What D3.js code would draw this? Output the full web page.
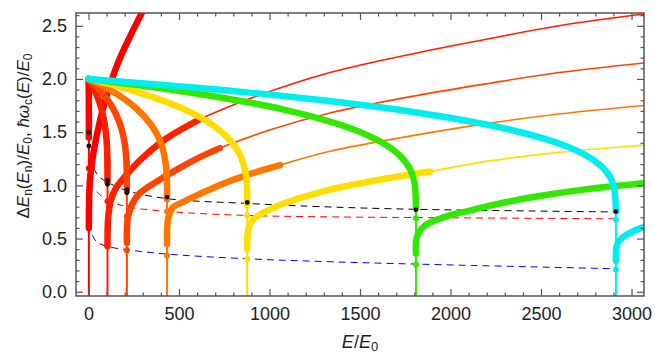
<!DOCTYPE html>
<html>
<head>
<meta charset="utf-8">
<script src="https://cdn.jsdelivr.net/npm/d3@7"></script>
<style>
  body { margin: 0; background: #fff; }
  svg { display: block; font-family: 'Liberation Sans', Arial, sans-serif; }
</style>
</head>
<body>
<div id="chart"></div>
<script>
// tick values
const xTicks = [0, 500, 1000, 1500, 2000, 2500, 3000];
const yTicks = [0, 0.5, 1.0, 1.5, 2.0, 2.5];

// one colour per level n = 1..7
const levelColors = ['#ff0000', '#ff1e00', '#ff4400', '#ff7700', '#ffdd00', '#33e800', '#00eeee'];
// energy where each level's branch drops (E/E0)
const criticalE = [2, 105, 212, 434, 877, 1809, 2914];

// falling branches, [E/E0, dE/E0]
const fall1 = [[0, 1.98], [1.2, 1.93], [2, 1.8], [2, 1.45]];
const fall2 = [[0, 2.0], [31.5, 1.902], [63, 1.767], [84, 1.628], [94.5, 1.516], [99.8, 1.425], [102.9, 1.33], [104.5, 1.228], [105, 1.03]];
const fall3 = [[0, 2.0], [63.6, 1.894], [127.2, 1.748], [169.6, 1.598], [190.8, 1.476], [201.4, 1.377], [207.8, 1.274], [210.9, 1.164], [212, 0.95]];
const fall4 = [[0, 2.0], [130, 1.886], [260, 1.729], [347, 1.567], [391, 1.436], [412, 1.33], [425, 1.219], [432, 1.10], [434, 0.87]];
const fall5 = [[0, 2.0], [263, 1.881], [526, 1.717], [702, 1.548], [789, 1.411], [833, 1.30], [859, 1.185], [873, 1.061], [877, 0.82]];
const fall6 = [[0, 2.0], [543, 1.878], [1085, 1.71], [1447, 1.537], [1628, 1.396], [1719, 1.282], [1773, 1.164], [1800, 1.037], [1809, 0.79]];
const fall7 = [[0, 2.0], [874, 1.874], [1748, 1.701], [2331, 1.523], [2623, 1.379], [2768, 1.262], [2856, 1.14], [2899, 1.009], [2914, 0.755]];

// rising branches, thick part
const rise1 = [[2, 0.6], [3, 0.8], [5, 0.95], [9, 1.07], [16, 1.16], [25, 1.28], [40, 1.42], [60, 1.58], [80, 1.72], [120, 1.95], [170, 2.18], [230, 2.4], [300, 2.64]];
const rise2 = [[105, 0.43], [106, 0.6], [110, 0.72], [122, 0.85], [150, 0.97], [210, 1.1], [300, 1.26], [430, 1.44], [625, 1.63]];
const rise3 = [[212, 0.46], [213, 0.6], [218, 0.7], [235, 0.8], [280, 0.92], [391, 1.05], [500, 1.16], [616, 1.265], [725, 1.35]];
const rise4 = [[434, 0.45], [435, 0.6], [442, 0.7], [465, 0.79], [530, 0.85], [616, 0.92], [750, 1.02], [900, 1.11], [1058, 1.19]];
const rise5 = [[877, 0.4], [878, 0.52], [885, 0.6], [910, 0.68], [985, 0.76], [1080, 0.83], [1168, 0.88], [1334, 0.96], [1600, 1.05], [1887, 1.13]];
const rise6 = [[1809, 0.36], [1810, 0.48], [1820, 0.54], [1850, 0.61], [1900, 0.66], [2000, 0.72], [2100, 0.76], [2218, 0.81], [2457, 0.89], [2733, 0.96], [3069, 1.02]];
const rise7 = [[2914, 0.29], [2915, 0.4], [2925, 0.46], [2950, 0.51], [3000, 0.56], [3069, 0.61]];

// thin continuations (hbar omega_c)
const thin2 = [[625, 1.63], [900, 1.82], [1334, 2.06], [1800, 2.24], [2218, 2.38], [2600, 2.5], [3069, 2.61]];
const thin3 = [[725, 1.35], [1000, 1.52], [1334, 1.68], [1800, 1.84], [2218, 1.96], [2600, 2.06], [3069, 2.15]];
const thin4 = [[1058, 1.19], [1334, 1.32], [1800, 1.47], [2218, 1.585], [2600, 1.67], [3069, 1.75]];
const thin5 = [[1887, 1.13], [2218, 1.23], [2600, 1.31], [3069, 1.38]];

// markers on the vertical drops
const dots1 = [1.91, 1.84, 1.75, 1.63, 1.16, 0.9, 0.86, 0.82, 0.78, 0.72, 0.645];
const dots2 = [1.225, 1.18, 0.85, 0.43];
const dots3 = [1.21, 0.71, 0.39];
const dots4 = [0.755, 0.34];
const dots5 = [0.72, 0.307];
const dots6 = [0.69, 0.43, 0.36, 0.255];
const dots7 = [0.68, 0.41, 0.33, 0.21];
const blackDots = [[1.5, 1.37], [1.05, 1.01], [0.96, 0.93], [0.89], [0.84], [0.77], [0.755]];

// dashed reference curves
const blackDash = [[28, 1.16], [60, 1.08], [105, 1.03], [212, 0.95], [434, 0.875], [877, 0.83], [1279, 0.8], [1809, 0.775], [2914, 0.75]];
const redDash = [[45, 0.94], [105, 0.86], [212, 0.8], [434, 0.755], [877, 0.717], [1279, 0.705], [1809, 0.697], [2914, 0.686]];
const blueDash = [[21, 0.535], [45, 0.47], [105, 0.426], [212, 0.395], [434, 0.354], [877, 0.31], [1279, 0.285], [1809, 0.26], [2914, 0.216]];

const falling = [fall1, fall2, fall3, fall4, fall5, fall6, fall7];
const rising = [rise1, rise2, rise3, rise4, rise5, rise6, rise7];
const thins = [null, thin2, thin3, thin4, thin5, null, null];
const dots = [dots1, dots2, dots3, dots4, dots5, dots6, dots7];

const width = 655, height = 353;
const plot = { left: 76, right: 644, top: 13, bottom: 296 };

const svg = d3.select('#chart').append('svg')
  .attr('width', width).attr('height', height);

const x = d3.scaleLinear().domain([-69, 3069]).range([plot.left, plot.right]);
const y = d3.scaleLinear().domain([-0.04, 2.62]).range([plot.bottom, plot.top]);

svg.append('clipPath').attr('id', 'clip')
  .append('rect')
  .attr('x', plot.left).attr('y', plot.top)
  .attr('width', plot.right - plot.left).attr('height', plot.bottom - plot.top);

const g = svg.append('g').attr('clip-path', 'url(#clip)');

const line = d3.line()
  .x(d => x(d[0]))
  .y(d => y(d[1]))
  .curve(d3.curveCatmullRom.alpha(0.5));

// dashed curves
[[blackDash, '#000'], [redDash, '#ff0000'], [blueDash, '#0000ff']].forEach(([data, c]) => {
  g.append('path').attr('d', line(data))
    .attr('fill', 'none').attr('stroke', c)
    .attr('stroke-width', 1).attr('stroke-dasharray', '7,5');
});

for (let i = 0; i < 7; i++) {
  const c = levelColors[i];
  const ec = criticalE[i];
  const top = falling[i][falling[i].length - 1][1];

  // vertical drop
  g.append('line')
    .attr('x1', x(ec)).attr('x2', x(ec))
    .attr('y1', y(i === 0 ? 1.98 : top)).attr('y2', y(-0.05))
    .attr('stroke', c).attr('stroke-width', 2);

  g.append('path').attr('d', line(falling[i]))
    .attr('fill', 'none').attr('stroke', c)
    .attr('stroke-width', 6.5).attr('stroke-linecap', 'round');

  if (thins[i]) {
    g.append('path').attr('d', line(thins[i]))
      .attr('fill', 'none').attr('stroke', c).attr('stroke-width', 1.6);
  }

  g.append('path').attr('d', line(rising[i]))
    .attr('fill', 'none').attr('stroke', c)
    .attr('stroke-width', 6.5).attr('stroke-linecap', 'round');

  g.selectAll(null).data(dots[i]).join('circle')
    .attr('cx', x(ec)).attr('cy', d => y(d))
    .attr('r', 3).attr('fill', c);

  g.selectAll(null).data(blackDots[i]).join('circle')
    .attr('cx', x(ec)).attr('cy', d => y(d))
    .attr('r', 2.4).attr('fill', '#000');
}

// axes: ticks pointing inward on all sides
const axisColor = '#555';
const xMinor = d3.range(100, 3001, 100).filter(v => v % 500 !== 0);
const yMinor = d3.range(1, 27).map(v => v / 10).filter(v => Math.round(v * 10) % 5 !== 0);

function styleAxis(sel) {
  sel.select('.domain').remove();
  sel.selectAll('line').attr('stroke', axisColor).attr('stroke-width', 1.2);
  sel.selectAll('text').attr('fill', '#222').style('font-size', '18px')
    .style('font-family', "'Liberation Sans', Arial, sans-serif");
}

svg.append('g').attr('transform', `translate(0,${plot.bottom})`)
  .call(d3.axisBottom(x).tickValues(xTicks).tickSize(-7).tickPadding(11).tickFormat(d3.format('d')))
  .call(styleAxis);
svg.append('g').attr('transform', `translate(0,${plot.bottom})`)
  .call(d3.axisBottom(x).tickValues(xMinor).tickSize(-3.5).tickFormat(''))
  .call(styleAxis);
svg.append('g').attr('transform', `translate(0,${plot.top})`)
  .call(d3.axisTop(x).tickValues(xTicks).tickSize(-7).tickFormat(''))
  .call(styleAxis);
svg.append('g').attr('transform', `translate(0,${plot.top})`)
  .call(d3.axisTop(x).tickValues(xMinor).tickSize(-3.5).tickFormat(''))
  .call(styleAxis);

svg.append('g').attr('transform', `translate(${plot.left},0)`)
  .call(d3.axisLeft(y).tickValues(yTicks).tickSize(-7).tickPadding(9).tickFormat(d3.format('.1f')))
  .call(styleAxis);
svg.append('g').attr('transform', `translate(${plot.left},0)`)
  .call(d3.axisLeft(y).tickValues(yMinor).tickSize(-3.5).tickFormat(''))
  .call(styleAxis);
svg.append('g').attr('transform', `translate(${plot.right},0)`)
  .call(d3.axisRight(y).tickValues(yTicks).tickSize(-7).tickFormat(''))
  .call(styleAxis);
svg.append('g').attr('transform', `translate(${plot.right},0)`)
  .call(d3.axisRight(y).tickValues(yMinor).tickSize(-3.5).tickFormat(''))
  .call(styleAxis);

svg.append('rect')
  .attr('x', plot.left).attr('y', plot.top)
  .attr('width', plot.right - plot.left).attr('height', plot.bottom - plot.top)
  .attr('fill', 'none').attr('stroke', axisColor).attr('stroke-width', 1.5);

// axis titles
const xt = svg.append('text')
  .attr('x', (plot.left + plot.right) / 2).attr('y', 348)
  .attr('text-anchor', 'middle').style('font-size', '18px').attr('fill', '#222');
xt.append('tspan').style('font-style', 'italic').text('E');
xt.append('tspan').text('/');
xt.append('tspan').style('font-style', 'italic').text('E');
xt.append('tspan').attr('baseline-shift', '-25%').style('font-size', '13px').text('0');

const yt = svg.append('text')
  .attr('transform', 'translate(29,136) rotate(-90)')
  .attr('text-anchor', 'middle').style('font-size', '17px').attr('fill', '#222');
const yParts = [
  ['Δ', false, false], ['E', true, false], ['n', false, true], ['(', false, false],
  ['E', true, false], ['n', false, true], [')/', false, false], ['E', true, false],
  ['0', false, true], [', ', false, false], ['ħω', true, false], ['c', false, true],
  ['(', false, false], ['E', true, false], [')/', false, false], ['E', true, false], ['0', false, true]
];
yParts.forEach(([t, it, sub]) => {
  const s = yt.append('tspan').text(t);
  if (it) s.style('font-style', 'italic');
  if (sub) s.attr('baseline-shift', '-25%').style('font-size', '12px');
});
</script>
</body>
</html>
